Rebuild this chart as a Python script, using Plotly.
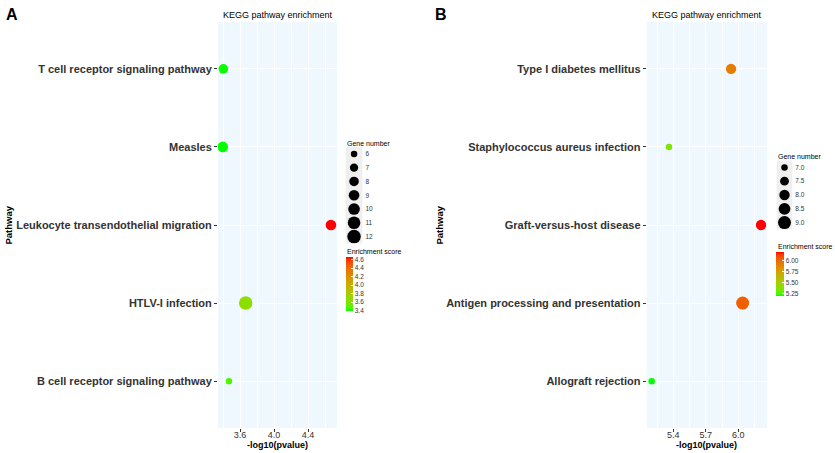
import numpy as np
import plotly.graph_objects as go

# ---------------- data ----------------
A_pathways = ["T cell receptor signaling pathway", "Measles",
              "Leukocyte transendothelial migration", "HTLV-I infection",
              "B cell receptor signaling pathway"]
A_logp = [3.404, 3.397, 4.67, 3.667, 3.47]
A_genes = [8, 9, 9, 12, 6]
A_enrich = [3.404, 3.397, 4.67, 3.667, 3.47]
A_gene_breaks = [6, 7, 8, 9, 10, 11, 12]
A_x_ticks = [3.6, 4.0, 4.4]
A_x_minor = [3.4, 3.8, 4.2, 4.6]
A_cb_ticks = [3.4, 3.6, 3.8, 4.0, 4.2, 4.4, 4.6]

B_pathways = ["Type I diabetes mellitus", "Staphylococcus aureus infection",
              "Graft-versus-host disease", "Antigen processing and presentation",
              "Allograft rejection"]
B_logp = [5.933, 5.36, 6.21, 6.04, 5.20]
B_genes = [8, 7, 8, 9, 7]
B_enrich = [5.933, 5.36, 6.21, 6.04, 5.20]
B_gene_breaks = [7.0, 7.5, 8.0, 8.5, 9.0]
B_x_ticks = [5.4, 5.7, 6.0]
B_x_minor = [5.25, 5.55, 5.85, 6.15]
B_cb_ticks = [5.25, 5.50, 5.75, 6.00]

W, H = 835, 453
FONT = "Liberation Sans"


# ---------- green -> red gradient interpolated in CIELAB (like ggplot) ----------
def _srgb2lin(c):
    c = np.asarray(c, float) / 255.0
    return np.where(c <= 0.04045, c / 12.92, ((c + 0.055) / 1.055) ** 2.4)


def _lin2srgb(c):
    c = np.where(c <= 0.0031308, 12.92 * c, 1.055 * np.clip(c, 0, None) ** (1 / 2.4) - 0.055)
    return np.clip(np.round(c * 255), 0, 255).astype(int)


M = np.array([[0.4124, 0.3576, 0.1805], [0.2126, 0.7152, 0.0722], [0.0193, 0.1192, 0.9505]])
WP = np.array([0.95047, 1.0, 1.08883])


def rgb2lab(rgb):
    xyz = M @ _srgb2lin(rgb) / WP
    f = np.where(xyz > (6 / 29) ** 3, np.cbrt(xyz), xyz / (3 * (6 / 29) ** 2) + 4 / 29)
    return np.array([116 * f[1] - 16, 500 * (f[0] - f[1]), 200 * (f[1] - f[2])])


def lab2rgb(lab):
    L, a, b = lab
    fy = (L + 16) / 116
    fx = fy + a / 500
    fz = fy - b / 200
    f = np.array([fx, fy, fz])
    xyz = np.where(f > 6 / 29, f ** 3, 3 * (6 / 29) ** 2 * (f - 4 / 29)) * WP
    return _lin2srgb(np.linalg.inv(M) @ xyz)


lo, hi = rgb2lab([0, 255, 0]), rgb2lab([255, 0, 0])
scale = []
for t in np.linspace(0, 1, 21):
    r, g, b = lab2rgb(lo + (hi - lo) * t)
    scale.append([float(t), f"rgb({r},{g},{b})"])


def diam(g, gmin, gmax, dmin, dmax):
    g = np.asarray(g, float)
    return dmin + (dmax - dmin) * ((g - gmin) / (gmax - gmin)) ** 0.75


fig = go.Figure()

# ---------------- main panels ----------------
fig.add_trace(go.Scatter(
    x=A_logp, y=A_pathways, mode="markers", xaxis="x", yaxis="y",
    marker=dict(size=diam(A_genes, 6, 12, 6.5, 13.5), color=A_enrich, opacity=1,
                coloraxis="coloraxis", line=dict(width=0)),
    showlegend=False, hoverinfo="skip"))
fig.add_trace(go.Scatter(
    x=B_logp, y=B_pathways, mode="markers", xaxis="x2", yaxis="y2",
    marker=dict(size=diam(B_genes, 7, 9, 6.5, 13.0), color=B_enrich, opacity=1,
                coloraxis="coloraxis2", line=dict(width=0)),
    showlegend=False, hoverinfo="skip"))

# ---------------- size legends (drawn on auxiliary axes) ----------------
fig.add_trace(go.Scatter(
    x=[0] * len(A_gene_breaks), y=[str(v) for v in A_gene_breaks], mode="markers",
    xaxis="x3", yaxis="y3",
    marker=dict(size=diam(A_gene_breaks, 6, 12, 6.5, 13.5), color="black", opacity=1,
                line=dict(width=0)),
    showlegend=False, hoverinfo="skip"))
fig.add_trace(go.Scatter(
    x=[0] * len(B_gene_breaks), y=[f"{v:.1f}" for v in B_gene_breaks], mode="markers",
    xaxis="x4", yaxis="y4",
    marker=dict(size=diam(B_gene_breaks, 7, 9, 6.5, 13.0), color="black", opacity=1,
                line=dict(width=0)),
    showlegend=False, hoverinfo="skip"))


def px_x(p):
    return p / W


def px_y(p):
    return 1 - p / H


tickfont = dict(family=FONT, size=9, color="#333333")
catfont = dict(family=FONT, size=11, color="#333333", weight="bold")

common_x = dict(showgrid=True, gridcolor="white", gridwidth=1, zeroline=False,
                ticks="outside", ticklen=3, tickcolor="#333333", tickwidth=1,
                showline=False, tickfont=tickfont, ticklabelstandoff=-5)
common_y = dict(type="category", showgrid=True, gridcolor="white", gridwidth=1,
                zeroline=False, ticks="outside", ticklen=3, tickcolor="#333333",
                showline=False, tickfont=catfont, range=[-0.6, 4.6])

fig.update_layout(
    width=W, height=H, margin=dict(l=0, r=0, t=0, b=0),
    paper_bgcolor="white", plot_bgcolor="rgba(0,0,0,0)",
    font=dict(family=FONT),
    xaxis=dict(domain=[px_x(218), px_x(337)], range=[3.341, 4.741], anchor="y",
               tickvals=A_x_ticks, ticktext=[f"{v:.1f}" for v in A_x_ticks],
               minor=dict(tickvals=A_x_minor, showgrid=True, gridcolor="white",
                          gridwidth=0.5, ticks=""),
               **common_x),
    yaxis=dict(domain=[px_y(428), px_y(22)], anchor="x",
               categoryarray=A_pathways[::-1], categoryorder="array", **common_y),
    xaxis2=dict(domain=[px_x(646.7), px_x(767)], range=[5.154, 6.265], anchor="y2",
                tickvals=B_x_ticks, ticktext=[f"{v:.1f}" for v in B_x_ticks],
                minor=dict(tickvals=B_x_minor, showgrid=True, gridcolor="white",
                           gridwidth=0.5, ticks=""),
                **common_x),
    yaxis2=dict(domain=[px_y(428), px_y(22)], anchor="x2",
                categoryarray=B_pathways[::-1], categoryorder="array", **common_y),
    xaxis3=dict(domain=[px_x(345.7), px_x(362.4)], range=[-1, 1], anchor="y3",
                visible=False, fixedrange=True),
    yaxis3=dict(domain=[px_y(243.5), px_y(147)], anchor="x3", type="category",
                categoryarray=[str(v) for v in A_gene_breaks], categoryorder="array",
                range=[len(A_gene_breaks) - 0.5, -0.5], side="right",
                showgrid=False, zeroline=False, showline=False, ticks="",
                ticklabelstandoff=2,
                tickfont=dict(family=FONT, size=6.5, color="#333333")),
    xaxis4=dict(domain=[px_x(776.7), px_x(792.3)], range=[-1, 1], anchor="y4",
                visible=False, fixedrange=True),
    yaxis4=dict(domain=[px_y(229.5), px_y(160.5)], anchor="x4", type="category",
                categoryarray=[f"{v:.1f}" for v in B_gene_breaks], categoryorder="array",
                range=[len(B_gene_breaks) - 0.5, -0.5], side="right",
                showgrid=False, zeroline=False, showline=False, ticks="",
                ticklabelstandoff=2,
                tickfont=dict(family=FONT, size=6.5, color="#333333")),
    coloraxis=dict(colorscale=scale, cmin=min(A_enrich), cmax=max(A_enrich),
                   colorbar=dict(x=px_x(345.7), xanchor="left", xpad=0,
                                 y=px_y(256.7), yanchor="top", ypad=0,
                                 lenmode="pixels", len=54.3, thickness=6.5,
                                 outlinewidth=0, tickvals=A_cb_ticks,
                                 ticktext=[f"{v:.1f}" for v in A_cb_ticks],
                                 ticks="inside", tickcolor="white", ticklen=2,
                                 tickfont=dict(family=FONT, size=6.5, color="#333333"))),
    coloraxis2=dict(colorscale=scale, cmin=min(B_enrich), cmax=max(B_enrich),
                    colorbar=dict(x=px_x(775.7), xanchor="left", xpad=0,
                                  y=px_y(251.7), yanchor="top", ypad=0,
                                  lenmode="pixels", len=44.3, thickness=8,
                                  outlinewidth=0, tickvals=B_cb_ticks,
                                  ticktext=[f"{v:.2f}" for v in B_cb_ticks],
                                  ticks="inside", tickcolor="white", ticklen=2,
                                  tickfont=dict(family=FONT, size=6.5, color="#333333"))),
)

# panel backgrounds and legend key backgrounds
for xr, yr, col in [("x", "y", "#F0F8FF"), ("x2", "y2", "#F0F8FF"),
                    ("x3", "y3", "#EFEFEF"), ("x4", "y4", "#EFEFEF")]:
    fig.add_shape(type="rect", xref=f"{xr} domain", yref=f"{yr} domain",
                  x0=0, x1=1, y0=0, y1=1, fillcolor=col, line=dict(width=0),
                  layer="below")

ann = []
for xr, yr in [("x", "y"), ("x2", "y2")]:
    ann.append(dict(text="KEGG pathway enrichment", xref=f"{xr} domain", yref="paper",
                    x=0.5, y=px_y(15), xanchor="center", yanchor="middle", showarrow=False,
                    font=dict(family=FONT, size=9, color="black")))
    ann.append(dict(text="<b>-log10(pvalue)</b>", xref=f"{xr} domain", yref="paper",
                    x=0.5, y=px_y(445), xanchor="center", yanchor="middle", showarrow=False,
                    font=dict(family=FONT, size=9, color="black")))
ann += [
    dict(text="<b>A</b>", xref="paper", yref="paper", x=px_x(4), y=px_y(15),
         xanchor="left", yanchor="middle", showarrow=False,
         font=dict(family=FONT, size=16, color="black")),
    dict(text="<b>B</b>", xref="paper", yref="paper", x=px_x(433), y=px_y(14),
         xanchor="left", yanchor="middle", showarrow=False,
         font=dict(family=FONT, size=16, color="black")),
    dict(text="<b>Pathway</b>", xref="paper", yref="paper", x=px_x(7.5), y=px_y(225),
         xanchor="center", yanchor="middle", textangle=-90, showarrow=False,
         font=dict(family=FONT, size=9.5, color="black")),
    dict(text="<b>Pathway</b>", xref="paper", yref="paper", x=px_x(438.5), y=px_y(225),
         xanchor="center", yanchor="middle", textangle=-90, showarrow=False,
         font=dict(family=FONT, size=9.5, color="black")),
    dict(text="Gene number", xref="paper", yref="paper", x=px_x(345), y=px_y(143),
         xanchor="left", yanchor="middle", showarrow=False,
         font=dict(family=FONT, size=7, color="black")),
    dict(text="Gene number", xref="paper", yref="paper", x=px_x(775.5), y=px_y(156.5),
         xanchor="left", yanchor="middle", showarrow=False,
         font=dict(family=FONT, size=7, color="black")),
    dict(text="Enrichment score", xref="paper", yref="paper", x=px_x(345), y=px_y(251),
         xanchor="left", yanchor="middle", showarrow=False,
         font=dict(family=FONT, size=7, color="black")),
    dict(text="Enrichment score", xref="paper", yref="paper", x=px_x(775.5), y=px_y(246.5),
         xanchor="left", yanchor="middle", showarrow=False,
         font=dict(family=FONT, size=7, color="black")),
]
fig.update_layout(annotations=ann)

fig.write_html("out.html", config={"displayModeBar": False},
               post_script="document.body.style.margin='0px';document.body.style.overflow='hidden';")
